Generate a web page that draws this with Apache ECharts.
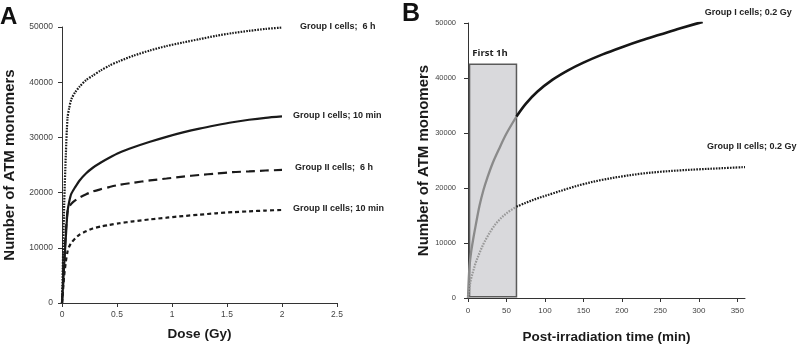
<!DOCTYPE html>
<html>
<head>
<meta charset="utf-8">
<script src="https://cdn.jsdelivr.net/npm/echarts@6/dist/echarts.min.js"></script>
<style>
html, body { margin: 0; padding: 0; background: #fff; }
#chart-container { width: 799px; height: 349px; }
</style>
</head>
<body>
<div id="chart-container"></div>
<script>
// Panel A: dose response
const doses = [0, 0.01, 0.02, 0.035, 0.05, 0.065, 0.085, 0.12, 0.16, 0.22, 0.28, 0.35, 0.43, 0.52, 0.65, 0.8, 0.95, 1.1, 1.25, 1.4, 1.55, 1.7, 1.85, 2.0];
const groupI_6h = [0, 9000, 18000, 27000, 33500, 35300, 36900, 38200, 39200, 40400, 41200, 42100, 43000, 43800, 44800, 45750, 46550, 47200, 47800, 48400, 48900, 49300, 49650, 49900];
const groupI_10min = [0, 3500, 7000, 12000, 16500, 18300, 19800, 21000, 22200, 23500, 24500, 25400, 26300, 27200, 28200, 29200, 30100, 30900, 31600, 32200, 32750, 33200, 33550, 33800];
const groupII_6h = [0, 3500, 7500, 13000, 16500, 17400, 18000, 18600, 19100, 19700, 20200, 20600, 21000, 21400, 21800, 22200, 22550, 22900, 23200, 23450, 23700, 23850, 24000, 24100];
const groupII_10min = [0, 2500, 5000, 7500, 9300, 10200, 10900, 11700, 12400, 13000, 13500, 13850, 14150, 14450, 14800, 15150, 15450, 15750, 16000, 16250, 16450, 16600, 16750, 16850];

// Panel B: time course after 0.2 Gy
const timesI = [0, 1, 2, 4, 7, 10, 15, 20, 25, 32, 40, 50, 63, 75, 90, 110, 130, 150, 175, 200, 225, 250, 275, 305];
const groupI_02Gy = [0, 3500, 5800, 8300, 10900, 13200, 16800, 19600, 21800, 24500, 27000, 29900, 33000, 35300, 37500, 39700, 41400, 42800, 44300, 45600, 46800, 47900, 49000, 50200];
const timesII = [0, 1, 2, 4, 7, 10, 15, 20, 25, 32, 40, 50, 63, 75, 90, 110, 130, 150, 175, 200, 225, 250, 275, 300, 330, 360];
const groupII_02Gy = [0, 1000, 2000, 3500, 5000, 6400, 8200, 9800, 11100, 12700, 14100, 15400, 16600, 17300, 18100, 19000, 19900, 20700, 21500, 22100, 22600, 22950, 23200, 23400, 23600, 23800];

const firstHour = [2, 63];      // minutes, shaded box
const firstHourRange = [250, 42500];
const timeTicks = [0, 50, 100, 150, 200, 250, 300, 350];

const pairs = (xs, ys) => xs.map((x, i) => [x, ys[i]]);
const inside = (xs, ys) => pairs(xs, ys).filter(p => p[0] <= firstHour[1]);
const outside = (xs, ys) => pairs(xs, ys).filter(p => p[0] >= firstHour[1]);

const FONT = 'Liberation Sans, Arial, sans-serif';
const axisColor = '#333';

const valueYAxis = (gridIndex, gap, labelSize, margin) => ({
	type: 'value',
	gridIndex,
	min: 0,
	max: 50000,
	interval: 10000,
	name: 'Number of ATM monomers',
	nameLocation: 'middle',
	nameGap: gap,
	nameTextStyle: {fontFamily: FONT, fontWeight: 'bold', fontSize: 15, color: '#1a1a1a'},
	axisLine: {show: true, lineStyle: {color: axisColor, width: 1}},
	axisTick: {show: true, length: 4, lineStyle: {color: axisColor}},
	axisLabel: {fontFamily: FONT, fontSize: labelSize, color: '#444', margin, formatter: v => String(v)},
	splitLine: {show: false},
});

const endLabel = (text, distance, offset) => ({
	show: true,
	formatter: text,
	distance,
	offset,
	fontFamily: FONT,
	fontWeight: 'bold',
	fontSize: 9,
	color: '#222',
});

const lineA = (name, data, type, label) => ({
	name,
	type: 'line',
	xAxisIndex: 0,
	yAxisIndex: 0,
	data: pairs(doses, data),
	showSymbol: false,
	smooth: 0.25,
	lineStyle: {color: '#1a1a1a', width: 2.2, type},
	endLabel: label,
	z: 3,
});

const lineB = (name, data, color, width, type, label) => ({
	name,
	type: 'line',
	xAxisIndex: 1,
	yAxisIndex: 1,
	data,
	showSymbol: false,
	smooth: 0.35,
	lineStyle: {color, width, type},
	endLabel: label,
	z: 3,
});

let chart_options = {
	animation: false,
	title: [
		{text: 'A', left: 0, top: 5, padding: 0, textStyle: {fontFamily: FONT, fontSize: 24, fontWeight: 'bold', color: '#111'}},
		{text: 'B', left: 402, top: 2, padding: 0, textStyle: {fontFamily: FONT, fontSize: 25, fontWeight: 'bold', color: '#111'}},
	],
	grid: [
		{left: 62, top: 27, width: 275, height: 276},
		{left: 468, top: 23, width: 277, height: 278},
	],
	xAxis: [
		{
			type: 'value',
			gridIndex: 0,
			min: 0,
			max: 2.5,
			interval: 0.5,
			name: 'Dose (Gy)',
			nameLocation: 'middle',
			nameGap: 24,
			nameTextStyle: {fontFamily: FONT, fontWeight: 'bold', fontSize: 13.5, color: '#1a1a1a'},
			axisLine: {show: true, onZero: false, lineStyle: {color: axisColor, width: 1}},
			axisTick: {show: true, length: 4, lineStyle: {color: axisColor}},
			axisLabel: {fontFamily: FONT, fontSize: 8.5, color: '#444', margin: 7},
			splitLine: {show: false},
		},
		{
			type: 'value',
			gridIndex: 1,
			min: 0,
			max: 360,
			interval: 50,
			name: 'Post-irradiation time (min)',
			nameLocation: 'middle',
			nameGap: 32,
			nameTextStyle: {fontFamily: FONT, fontWeight: 'bold', fontSize: 13.5, color: '#1a1a1a'},
			axisLine: {show: true, onZero: false, lineStyle: {color: axisColor, width: 1}},
			axisTick: {show: true, length: 4, customValues: timeTicks, lineStyle: {color: axisColor}},
			axisLabel: {fontFamily: FONT, fontSize: 8, color: '#444', margin: 9, customValues: timeTicks},
			splitLine: {show: false},
		},
	],
	yAxis: [
		valueYAxis(0, 45, 8.5, 9),
		valueYAxis(1, 36, 7.5, 12),
	],
	series: [
		lineA('Group I cells;  6 h', groupI_6h, [1.6, 1.2], endLabel('Group I cells;  6 h', 18, [0, -1])),
		lineA('Group I cells; 10 min', groupI_10min, 'solid', endLabel('Group I cells; 10 min', 11, [0, -1])),
		lineA('Group II cells;  6 h', groupII_6h, [9, 5], endLabel('Group II cells;  6 h', 13, [0, -2])),
		lineA('Group II cells; 10 min', groupII_10min, [4, 3], endLabel('Group II cells; 10 min', 11, [0, -1])),
		{
			name: 'First 1h',
			type: 'line',
			xAxisIndex: 1,
			yAxisIndex: 1,
			data: [],
			z: 1,
			silent: true,
			markArea: {
				silent: true,
				itemStyle: {color: '#d9d9dc', borderColor: '#5a5a5a', borderWidth: 1.5},
				label: {show: true, position: 'top', distance: 5, offset: [-3, 0], fontFamily: 'Open Sans, sans-serif', fontWeight: 'bold', fontSize: 9.5, color: '#222'},
				data: [[
					{name: 'First 1h', coord: [firstHour[0], firstHourRange[0]]},
					{coord: [firstHour[1], firstHourRange[1]]},
				]],
			},
		},
		lineB('Group I cells; 0.2 Gy (first hour)', inside(timesI, groupI_02Gy), '#8a8a8a', 2.3, 'solid'),
		lineB('Group I cells; 0.2 Gy', outside(timesI, groupI_02Gy), '#161616', 2.6, 'solid',
			endLabel('Group I cells; 0.2 Gy', 5, [-3, -9])),
		lineB('Group II cells; 0.2 Gy (first hour)', inside(timesII, groupII_02Gy), '#999', 2.2, [1.6, 1.2]),
		lineB('Group II cells; 0.2 Gy', outside(timesII, groupII_02Gy), '#1a1a1a', 2.2, [1.6, 1.2],
			endLabel('Group II cells; 0.2 Gy', 5, [-43, -21])),
	],
};

const chart = echarts.init(document.getElementById('chart-container'), null, {renderer: 'canvas'});
chart.setOption(chart_options);
</script>
</body>
</html>
